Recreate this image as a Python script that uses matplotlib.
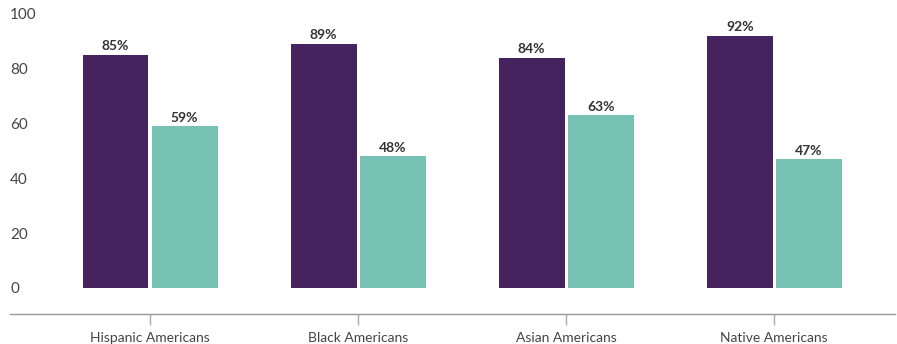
import matplotlib
matplotlib.use("Agg")
import matplotlib.pyplot as plt
import numpy as np

groups = ["Hispanic Americans", "Black Americans", "Asian Americans", "Native Americans"]
series_a = [85, 89, 84, 92]
series_b = [59, 48, 63, 47]
y_ticks = [0, 20, 40, 60, 80, 100]

PURPLE = "#44235E"
TEAL = "#77C1B5"

plt.rcParams["font.family"] = ["Lato", "DejaVu Sans"]

fig = plt.figure(figsize=(8.97, 3.44), dpi=100)
ax = fig.add_axes([10 / 897, 30 / 344, 885 / 897, 314 / 344])

x = np.arange(len(groups))
width = 0.317
offset = 0.166
bars_a = ax.bar(x - offset, series_a, width, color=PURPLE)
bars_b = ax.bar(x + offset, series_b, width, color=TEAL)

# value labels sit just above each bar
for bars, vals in ((bars_a, series_a), (bars_b, series_b)):
    for bar, v in zip(bars, vals):
        ax.annotate(f"{v}%", (bar.get_x() + bar.get_width() / 2, v),
                    xytext=(0, 1.8), textcoords="offset points",
                    ha="center", va="bottom", fontsize=10,
                    fontweight="bold", color="#333333")

ax.set_xlim(-0.673, 3.58)
ax.set_ylim(-9.5, 105)
ax.set_xticks(x)
ax.set_xticklabels(groups)
ax.set_yticks(y_ticks)
ax.set_yticklabels([str(t) for t in y_ticks])

for side in ("top", "right", "left"):
    ax.spines[side].set_visible(False)
ax.spines["bottom"].set_color("#999999")
ax.spines["bottom"].set_linewidth(1.0)

ax.tick_params(axis="x", length=8, width=1, color="#aaaaaa", labelsize=10,
               labelcolor="#444444", pad=5)
ax.tick_params(axis="y", length=0, pad=0, labelsize=11, labelcolor="#444444")
for lab in ax.get_yticklabels():
    lab.set_horizontalalignment("left")

fig.savefig("out.png", dpi=100)
